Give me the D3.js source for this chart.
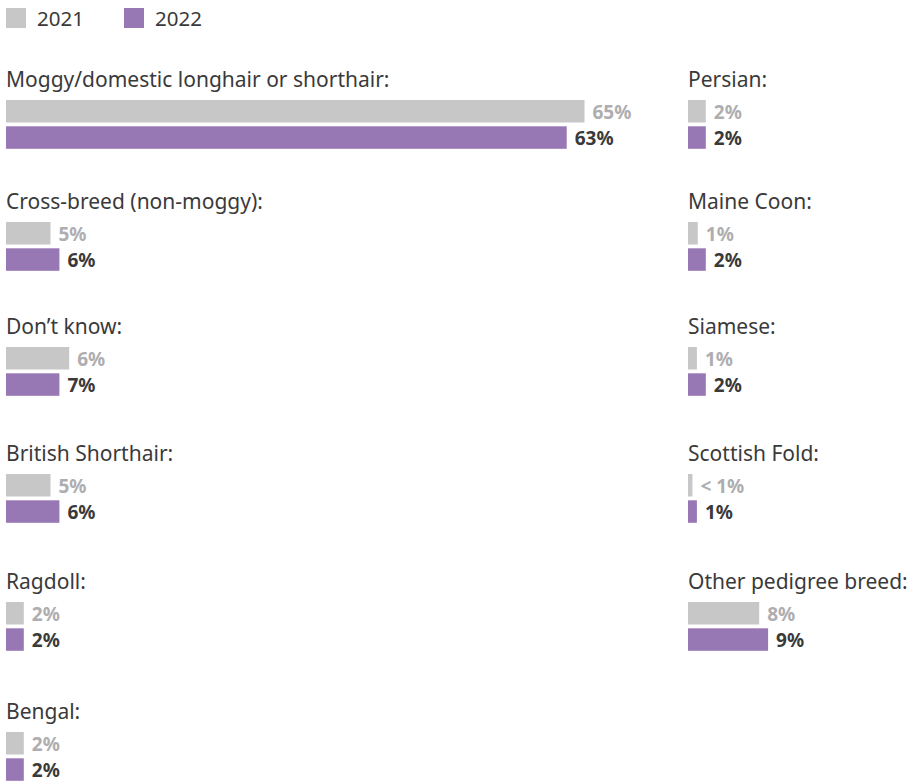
<!DOCTYPE html>
<html>
<head>
<meta charset="utf-8">
<script src="https://cdn.jsdelivr.net/npm/d3@7"></script>
<style>
body { margin: 0; background: #fff; }
svg { display: block; font-family: "Noto Sans", sans-serif; }
</style>
</head>
<body>
<svg id="chart"></svg>
<script>
var categories = ["Moggy/domestic longhair or shorthair:", "Cross-breed (non-moggy):", "Don\u2019t know:",
	"British Shorthair:", "Ragdoll:", "Bengal:",
	"Persian:", "Maine Coon:", "Siamese:", "Scottish Fold:", "Other pedigree breed:"];
var values2021 = [65, 5, 7.1, 5, 2, 2, 2, 1.1, 1, 0.5, 8];
var values2022 = [63, 6, 6, 6, 2, 2, 2, 2, 2, 1, 9];
var labels2021 = ["65%", "5%", "6%", "5%", "2%", "2%", "2%", "1%", "1%", "< 1%", "8%"];
var labels2022 = ["63%", "6%", "7%", "6%", "2%", "2%", "2%", "2%", "2%", "1%", "9%"];
var years = ["2021", "2022"];

var width = 911, height = 783;
var colors = {"2021": "#c8c7c8", "2022": "#9778b4"};
var labelColors = {"2021": "#aeadb0", "2022": "#3a3a3a"};
var barHeight = 22.5, barStep = 26.3;

var data = categories.map(function(c, i) {
	return {
		name: c,
		col: i < 6 ? 0 : 1,
		row: i < 6 ? i : i - 6,
		bars: [
			{year: "2021", value: values2021[i], label: labels2021[i]},
			{year: "2022", value: values2022[i], label: labels2022[i]}
		]
	};
});

var x = d3.scaleLinear().domain([0, 100]).range([0, 890]);
var colX = d3.scaleOrdinal().domain([0, 1]).range([6, 688]);
var rowY = d3.scaleLinear().domain([0, 1, 2, 3, 4, 5]).range([100, 222, 347, 474, 602, 732]);

var svg = d3.select("#chart")
	.attr("width", width)
	.attr("height", height);

// legend
var legend = svg.append("g").selectAll("g")
	.data(years)
	.enter()
	.append("g")
	.attr("transform", (d, i) => "translate(" + (6 + i * 118) + ",8)");

legend.append("rect")
	.attr("width", 20)
	.attr("height", 20)
	.attr("fill", d => colors[d]);

legend.append("text")
	.attr("x", 31)
	.attr("y", 18)
	.attr("font-size", 20.5)
	.attr("fill", "#3a3a3a")
	.text(d => d);

var group = svg.selectAll(".group")
	.data(data)
	.enter()
	.append("g")
	.attr("class", "group")
	.attr("transform", d => "translate(" + colX(d.col) + "," + rowY(d.row) + ")");

group.append("text")
	.attr("x", 0)
	.attr("y", -13)
	.attr("font-size", 21)
	.attr("fill", "#3a3a3a")
	.text(d => d.name);

var bar = group.selectAll(".bar")
	.data(d => d.bars)
	.enter()
	.append("g")
	.attr("class", "bar")
	.attr("transform", (d, i) => "translate(0," + (i * barStep) + ")");

bar.append("rect")
	.attr("width", d => x(d.value))
	.attr("height", barHeight)
	.attr("fill", d => colors[d.year]);

bar.append("text")
	.attr("x", d => x(d.value) + 8)
	.attr("y", 19)
	.attr("font-size", 19)
	.attr("font-weight", "bold")
	.attr("fill", d => labelColors[d.year])
	.text(d => d.label);
</script>
</body>
</html>
